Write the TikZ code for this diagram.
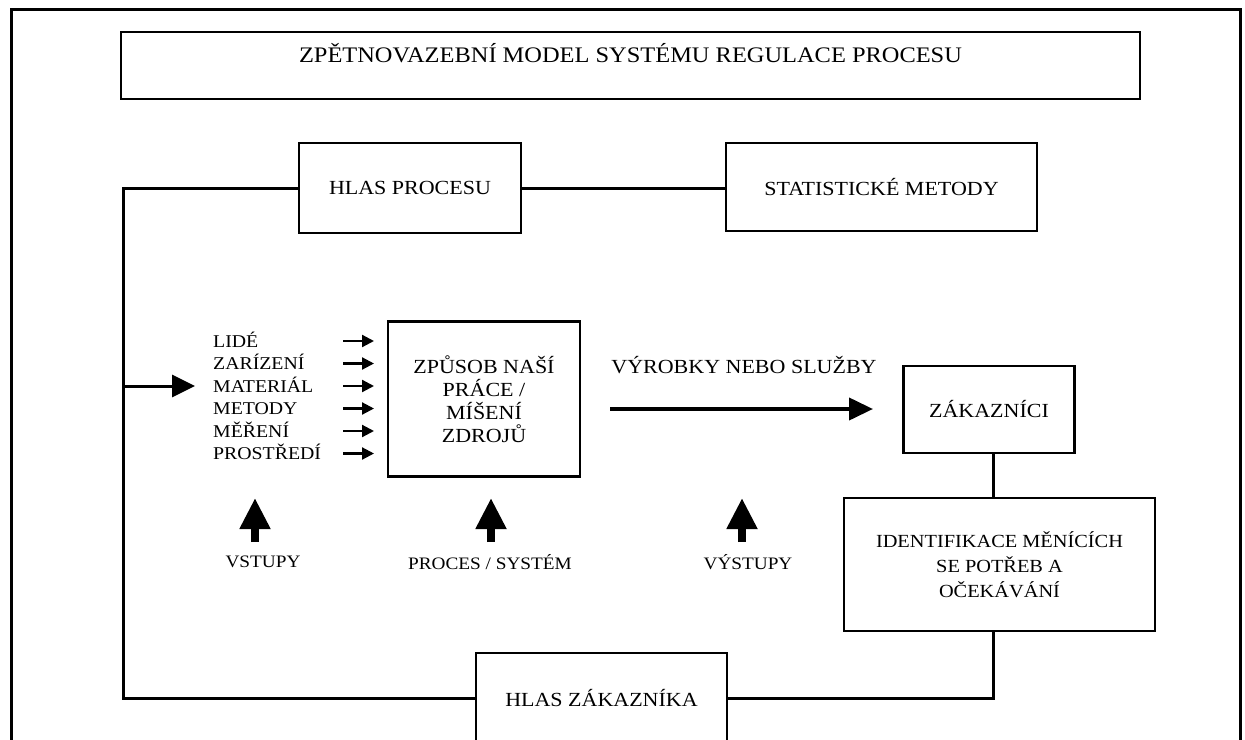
\documentclass[tikz,border=0pt]{standalone}
\usepackage{fontspec}
\setmainfont{Liberation Serif}[FakeStretch=1.1]
\usetikzlibrary{arrows.meta}
\tikzset{
  frameline/.style={line width=3pt},
  box/.style={draw, line width=2.2pt, inner sep=0pt, align=center, fill=white},
  conn/.style={line width=3pt},
  smallarr/.style={line width=2.2pt, -{Triangle[length=12pt,width=12pt]}},
  bigarr/.style={line width=4pt, -{Triangle[length=24pt,width=22pt]}},
  uparr/.style={line width=8pt, -{Triangle[length=31pt,width=29pt]}},
  inarr/.style={line width=3pt, -{Triangle[length=23pt,width=22pt]}},
  fbox/.style={font=\fontsize{20}{23}\selectfont},
  flist/.style={font=\fontsize{18}{22.5}\selectfont},
  flab/.style={font=\fontsize{17.5}{21}\selectfont},
}
\begin{document}
\begin{tikzpicture}[x=1pt,y=-1pt]
\useasboundingbox (0,0) rectangle (1245,739);
\clip (0,0) rectangle (1245,739);
\fill[white] (0,0) rectangle (1245,739);
% outer frame
\draw[frameline] (11,9) rectangle (1240,800);
% title
\node[box, minimum width=1019pt, minimum height=67pt, text height=14pt, text depth=20pt,
      font=\fontsize{22.2}{26}\selectfont] (title) at (630.5,65.5)
  {ZPĚTNOVAZEBNÍ MODEL SYSTÉMU REGULACE PROCESU};
% boxes
\node[box, fbox, minimum width=222pt, minimum height=90pt] (hp) at (410,188) {HLAS PROCESU};
\node[box, fbox, minimum width=311pt, minimum height=88pt] (stat) at (881.5,187) {STATISTICKÉ METODY};
\node[box, fbox, minimum width=192pt, minimum height=155pt] (work) at (484,399)
  {ZPŮSOB NAŠÍ\\PRÁCE /\\MÍŠENÍ\\ZDROJŮ};
\node[box, fbox, minimum width=171pt, minimum height=87pt] (zak) at (989,409.5) {ZÁKAZNÍCI};
\node[box, font=\fontsize{18.5}{25}\selectfont, minimum width=311pt, minimum height=133pt] (ident) at (999.5,564.5)
  {IDENTIFIKACE MĚNÍCÍCH\\SE POTŘEB A\\OČEKÁVÁNÍ};
\node[box, fbox, minimum width=251pt, minimum height=90pt] (hz) at (601.5,698) {HLAS ZÁKAZNÍKA};
% input list
\node[flist, anchor=base west, inner sep=0pt] (in1) at (213,347) {LIDÉ};
\node[flist, anchor=base west, inner sep=0pt] (in2) at (213,369.5) {ZARÍZENÍ};
\node[flist, anchor=base west, inner sep=0pt] (in3) at (213,392) {MATERIÁL};
\node[flist, anchor=base west, inner sep=0pt] (in4) at (213,414.5) {METODY};
\node[flist, anchor=base west, inner sep=0pt] (in5) at (213,437) {MĚŘENÍ};
\node[flist, anchor=base west, inner sep=0pt] (in6) at (213,459.5) {PROSTŘEDÍ};
\foreach \yy in {341,363.5,386,408.5,431,453.5}{
  \draw[smallarr] (343,\yy) -- (374,\yy);
}
% output label and arrow
\node[fbox, inner sep=0pt] (vyr) at (744,365) {VÝROBKY NEBO SLUŽBY};
\coordinate (oA) at (610,409);
\coordinate (oB) at (873,409);
\draw[bigarr] (oA) -- (oB);
% bottom labels with up arrows
\node[flab, inner sep=0pt] (vst) at (263,562) {VSTUPY};
\node[flab, inner sep=0pt] (proc) at (490,562) {PROCES / SYSTÉM};
\node[flab, inner sep=0pt] (vys) at (748,562) {VÝSTUPY};
\draw[uparr] (255,542) -- (255,498);
\draw[uparr] (491,542) -- (491,498);
\draw[uparr] (742,542) -- (742,498);
% feedback loop
\coordinate (ltl) at (123,188);
\coordinate (lbl) at (123,698);
\draw[conn] (hp.west) -- (ltl) -- (lbl) -- (hz.west);
\draw[conn] (hp.east) -- (hp.east -| stat.west);
\coordinate (inA) at (123,386);
\coordinate (inB) at (195,386);
\draw[inarr] (inA) -- (inB);
\coordinate (zx) at (993,0);
\draw[conn] (zak.south -| zx) -- (ident.north -| zx);
\draw[conn] (ident.south -| zx) -- (hz.east -| zx) -- (hz.east);
\end{tikzpicture}
\end{document}
